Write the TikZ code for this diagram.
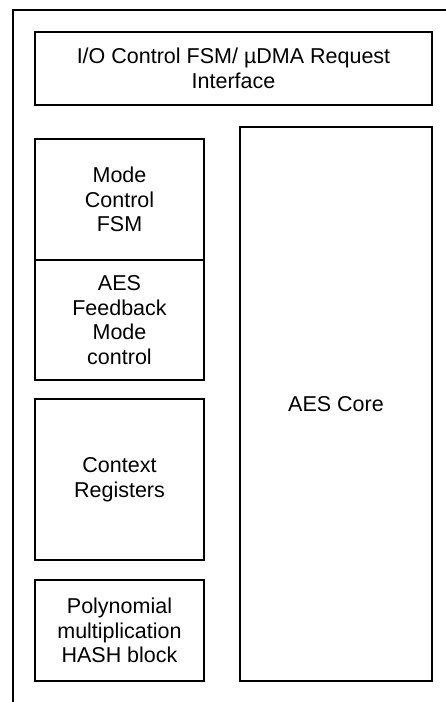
\documentclass[tikz,border=0pt]{standalone}
\usepackage{fontspec}
\setmainfont{Liberation Sans}
\usepackage{tikz}
\usetikzlibrary{positioning}

\begin{document}
\begin{tikzpicture}[x=1pt, y=-1pt,
    blockbox/.style={draw, line width=2.2pt, align=center, inner sep=0pt, outer sep=0pt,
                     font=\fontsize{21.5}{24.5}\selectfont}]
  \useasboundingbox (0,0) rectangle (446,702);

  % Outer frame (cut off at right and bottom)
  \draw[line width=2.2pt] (13,702) -- (13,10) -- (446,10);

  % Request interface across the top
  \node[blockbox, minimum width=397pt, minimum height=73pt] (iofsm) at (233.5,68.5)
    {I/O Control FSM/ µDMA Request\\Interface};

  % Left column
  \node[blockbox, minimum width=169pt, minimum height=121pt] (modefsm) at (119.5,199.5)
    {Mode\\Control\\FSM};
  \node[blockbox, minimum width=169pt, minimum height=120pt] (feedback) at (119.5,320)
    {AES\\Feedback\\Mode\\control};
  \node[blockbox, minimum width=169pt, minimum height=161pt] (context) at (119.5,479.5)
    {Context\\Registers};
  \node[blockbox, minimum width=169pt, minimum height=101pt] (hash) at (119.5,630.5)
    {Polynomial\\multiplication\\HASH block};

  % Right column
  \node[blockbox, minimum width=192pt, minimum height=554pt] (aescore) at (336,404)
    {AES Core};
\end{tikzpicture}
\end{document}
